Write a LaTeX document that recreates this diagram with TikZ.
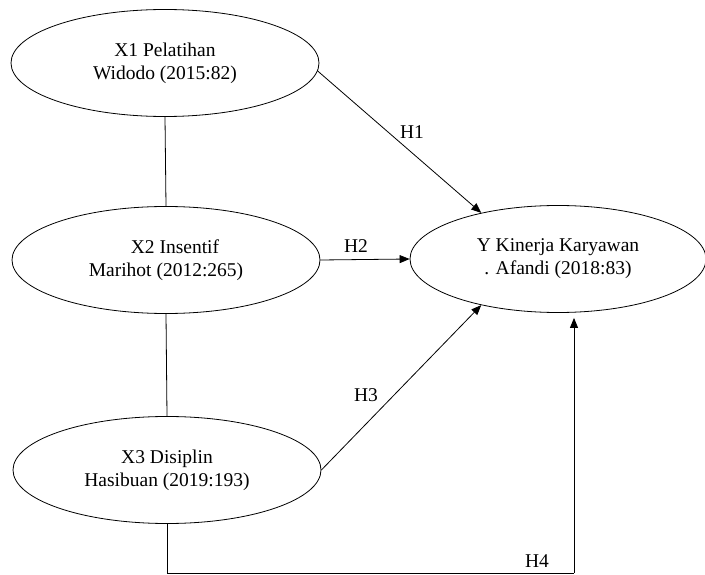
\documentclass[tikz,border=0pt]{standalone}
\usepackage{fontspec}
\setmainfont{Liberation Serif}
\usetikzlibrary{shapes.geometric,arrows.meta}
\begin{document}
\begin{tikzpicture}[x=1pt,y=-1pt,
  var/.style={ellipse,draw,line width=0.8pt,inner sep=0pt,minimum width=308pt,minimum height=107pt,align=center,font=\fontsize{19.5pt}{23pt}\selectfont},
  conn/.style={draw,line width=0.8pt},
  arr/.style={conn,-{Triangle[length=10pt,width=8pt]}},
  lbl/.style={font=\fontsize{19.5pt}{23pt}\selectfont,inner sep=0pt}]
\useasboundingbox (0,0) rectangle (705,575);
\node[var] (X1) at (165,63) {X1 Pelatihan\\Widodo (2015:82)};
\node[var] (X2) at (166,260) {\hspace*{18pt}X2 Insentif\\Marihot (2012:265)};
\node[var] (X3) at (167,470) {X3 Disiplin\\Hasibuan (2019:193)};
\node[var,minimum width=296pt] (Y) at (558,259) {Y Kinerja Karyawan\\. Afandi (2018:83)};
\draw[conn] (X1.south) -- (X2.north);
\draw[conn] (X2.south) -- (X3.north);
\draw[arr] (X1.-3) -- (Y.149);
\draw[arr] (X2.east) -- (Y.west);
\draw[arr] (X3.east) -- (Y.211);
\coordinate (c1) at (X3.south |- 0,573);
\coordinate (c2) at (574,573);
\draw[conn] (X3.south) -- (c1) -- (c2);
\draw[arr,shorten >=5pt] (c2) -- (c2 |- Y.south);
\node[lbl] (h1) at (412,132) {H1};
\node[lbl] (h2) at (356,246) {H2};
\node[lbl] (h3) at (366,395) {H3};
\node[lbl] (h4) at (537,561) {H4};
\end{tikzpicture}
\end{document}
